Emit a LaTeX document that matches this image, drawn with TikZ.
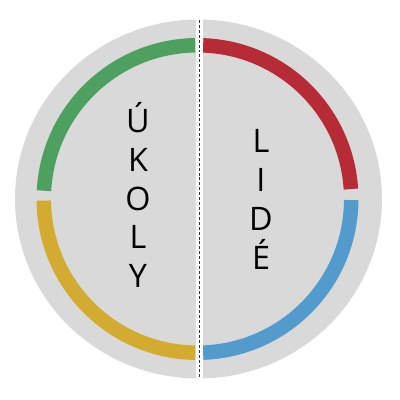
\documentclass[tikz,border=0pt]{standalone}
\usepackage{fontspec}
\setmainfont{Open Sans}
\definecolor{ringgray}{HTML}{D9D9D9}
\definecolor{taskgreen}{HTML}{4DA060}
\definecolor{peoplered}{HTML}{B62B35}
\definecolor{taskyellow}{HTML}{D3AB30}
\definecolor{peopleblue}{HTML}{539BCC}

\begin{document}
\begin{tikzpicture}[x=0.025cm, y=0.025cm,
    band/.style={line width=0.3625cm},
    letter/.style={anchor=base, inner sep=0pt, font=\fontsize{23}{28}\selectfont},
    divider/.style={line width=0.4pt, black!80, dash pattern=on 2.1pt off 1.4pt}]
    \useasboundingbox (0,0) rectangle (400,400);
    \fill[ringgray] (198.5,201) ellipse [x radius=183.5, y radius=179.5];
    % four coloured quarters
    \coordinate (mid) at (197.5,201);
    \draw[band, taskgreen] (mid) ++(90.9:153.75) arc[start angle=90.9, end angle=176.9, radius=153.75];
    \draw[band, peoplered] (mid) ++(3.7:153.75) arc[start angle=3.7, end angle=87.9, radius=153.75];
    \draw[band, taskyellow] (mid) ++(180.6:153.75) arc[start angle=180.6, end angle=269.1, radius=153.75];
    \draw[band, peopleblue] (mid) ++(272.1:153.75) arc[start angle=272.1, end angle=359.6, radius=153.75];
    % white split
    \fill[white] (195.5,10) rectangle (202.5,390);
    \coordinate (divtop) at (199,380);
    \coordinate (divbot) at (199,22);
    \draw[divider] (divtop) -- (divbot);
    % words
    \foreach \ch/\yb [count=\i] in {Ú/267, K/228, O/189.5, L/151, Y/112.5}
        \node[letter] (uk-\i) at (138,\yb) {\ch};
    \foreach \ch/\yb [count=\i] in {L/247, I/208, D/169, É/130}
        \node[letter] (li-\i) at (261,\yb) {\ch};
\end{tikzpicture}
\end{document}
